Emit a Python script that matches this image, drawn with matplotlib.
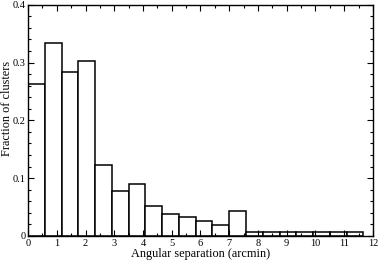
import numpy as np
import matplotlib
matplotlib.use("Agg")
import matplotlib.pyplot as plt
from matplotlib.ticker import MultipleLocator

# bins of 35 arcsec (7/12 arcmin)
bin_width = 7.0 / 12.0
fractions = [0.263, 0.334, 0.283, 0.302, 0.123, 0.077, 0.090, 0.051,
             0.038, 0.032, 0.025, 0.019, 0.044, 0.006, 0.006, 0.006,
             0.006, 0.006, 0.006, 0.006]
edges = np.arange(len(fractions) + 1) * bin_width

plt.rcParams['font.family'] = ['Liberation Serif', 'DejaVu Serif']

fig = plt.figure(figsize=(3.79, 2.61), dpi=100)
ax = fig.add_axes([0.074, 0.096, 0.910, 0.886])

ax.bar(edges[:-1], fractions, width=bin_width, align='edge',
       facecolor='white', edgecolor='black', linewidth=1.1)

ax.set_xlim(0, 12)
ax.set_ylim(0, 0.4)
ax.xaxis.set_major_locator(MultipleLocator(1))
ax.xaxis.set_minor_locator(MultipleLocator(0.5))
ax.yaxis.set_major_locator(MultipleLocator(0.1))
ax.yaxis.set_minor_locator(MultipleLocator(0.02))
ax.set_yticks([0, 0.1, 0.2, 0.3, 0.4])
ax.set_yticklabels(['0', '0.1', '0.2', '0.3', '0.4'])
ax.tick_params(which='both', direction='in', top=True, right=True,
               labelsize=7.5, width=0.8, pad=2)
ax.tick_params(which='major', length=4)
ax.tick_params(which='minor', length=2)
for s in ax.spines.values():
    s.set_linewidth(1.0)

ax.set_xlabel("Angular separation (arcmin)", fontsize=8.8, labelpad=0)
ax.set_ylabel("Fraction of clusters", fontsize=8.8)
ax.yaxis.set_label_coords(-0.043, 0.55)

fig.savefig("out.png", dpi=100)
